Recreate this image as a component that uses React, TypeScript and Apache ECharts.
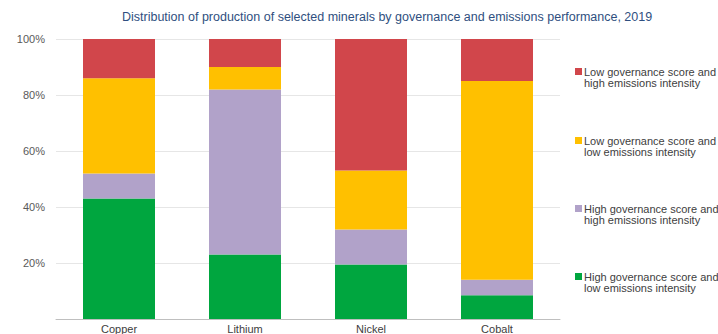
import React, { useEffect, useRef } from "react";
import * as echarts from "echarts";

const categories = ["Copper", "Lithium", "Nickel", "Cobalt"];
const highGovLowEm = [43, 23, 19.5, 8.5];
const highGovHighEm = [9, 59, 12.5, 5.5];
const lowGovLowEm = [34, 8, 21, 71];
const lowGovHighEm = [14, 10, 47, 15];
const yTicks = [0, 20, 40, 60, 80, 100];

const seriesNames = [
  "High governance score and\nlow emissions intensity",
  "High governance score and\nhigh emissions intensity",
  "Low governance score and\nlow emissions intensity",
  "Low governance score and\nhigh emissions intensity",
];
const colors = ["#00a63f", "#b1a2c9", "#ffc000", "#d1464b"];
const seriesData = [highGovLowEm, highGovHighEm, lowGovLowEm, lowGovHighEm];

export default function App() {
  const ref = useRef<HTMLDivElement>(null);
  useEffect(() => {
    if (!ref.current) return;
    const chart = echarts.init(ref.current, null, { renderer: "svg" });
    const legendTops = [55, 124, 192, 260];
    const legendOrder = [3, 2, 1, 0];
    chart.setOption({
      animation: false,
      title: {
        text: "Distribution of production of selected minerals by governance and emissions performance, 2019",
        left: 122,
        top: 10,
        padding: 0,
        textStyle: {
          fontFamily: "Liberation Sans, Arial, sans-serif",
          fontSize: 12.5,
          fontWeight: "normal",
          color: "#2f4f80",
        },
      },
      legend: legendOrder.map((si, i) => ({
        data: [seriesNames[si]],
        left: 575,
        top: legendTops[i],
        padding: 0,
        itemWidth: 7,
        itemHeight: 7,
        itemGap: 0,
        icon: "rect",
        selectedMode: false,
        formatter: (name: string) => " \n" + name,
        textStyle: {
          fontFamily: "Liberation Sans, Arial, sans-serif",
          fontSize: 11,
          lineHeight: 11,
          color: "#404040",
          padding: [0, 0, 0, -3],
        },
      })),
      grid: { left: 56, right: 158, top: 39, bottom: 14, containLabel: false },
      xAxis: {
        type: "category",
        data: categories,
        axisLine: { lineStyle: { color: "#bfbfbf", width: 1 } },
        axisTick: { show: false },
        axisLabel: {
          margin: 4,
          fontFamily: "Liberation Sans, Arial, sans-serif",
          fontSize: 11,
          color: "#404040",
        },
      },
      yAxis: {
        type: "value",
        min: yTicks[0],
        max: yTicks[yTicks.length - 1],
        interval: 20,
        axisLine: { show: false },
        axisTick: { show: false },
        splitLine: { lineStyle: { color: "#e6e6e6", width: 1 } },
        axisLabel: {
          margin: 11,
          fontFamily: "Liberation Sans, Arial, sans-serif",
          fontSize: 11,
          color: "#595959",
          formatter: (v: number) => (v === 0 ? "" : v + "%"),
        },
      },
      series: seriesData.map((d, i) => ({
        name: seriesNames[i],
        type: "bar",
        stack: "total",
        barWidth: 72,
        data: d,
        itemStyle: { color: colors[i] },
      })),
    });
    return () => chart.dispose();
  }, []);
  return (
    <div
      ref={ref}
      style={{ position: "fixed", left: 0, top: 0, width: 718, height: 334, background: "#fff" }}
    />
  );
}
